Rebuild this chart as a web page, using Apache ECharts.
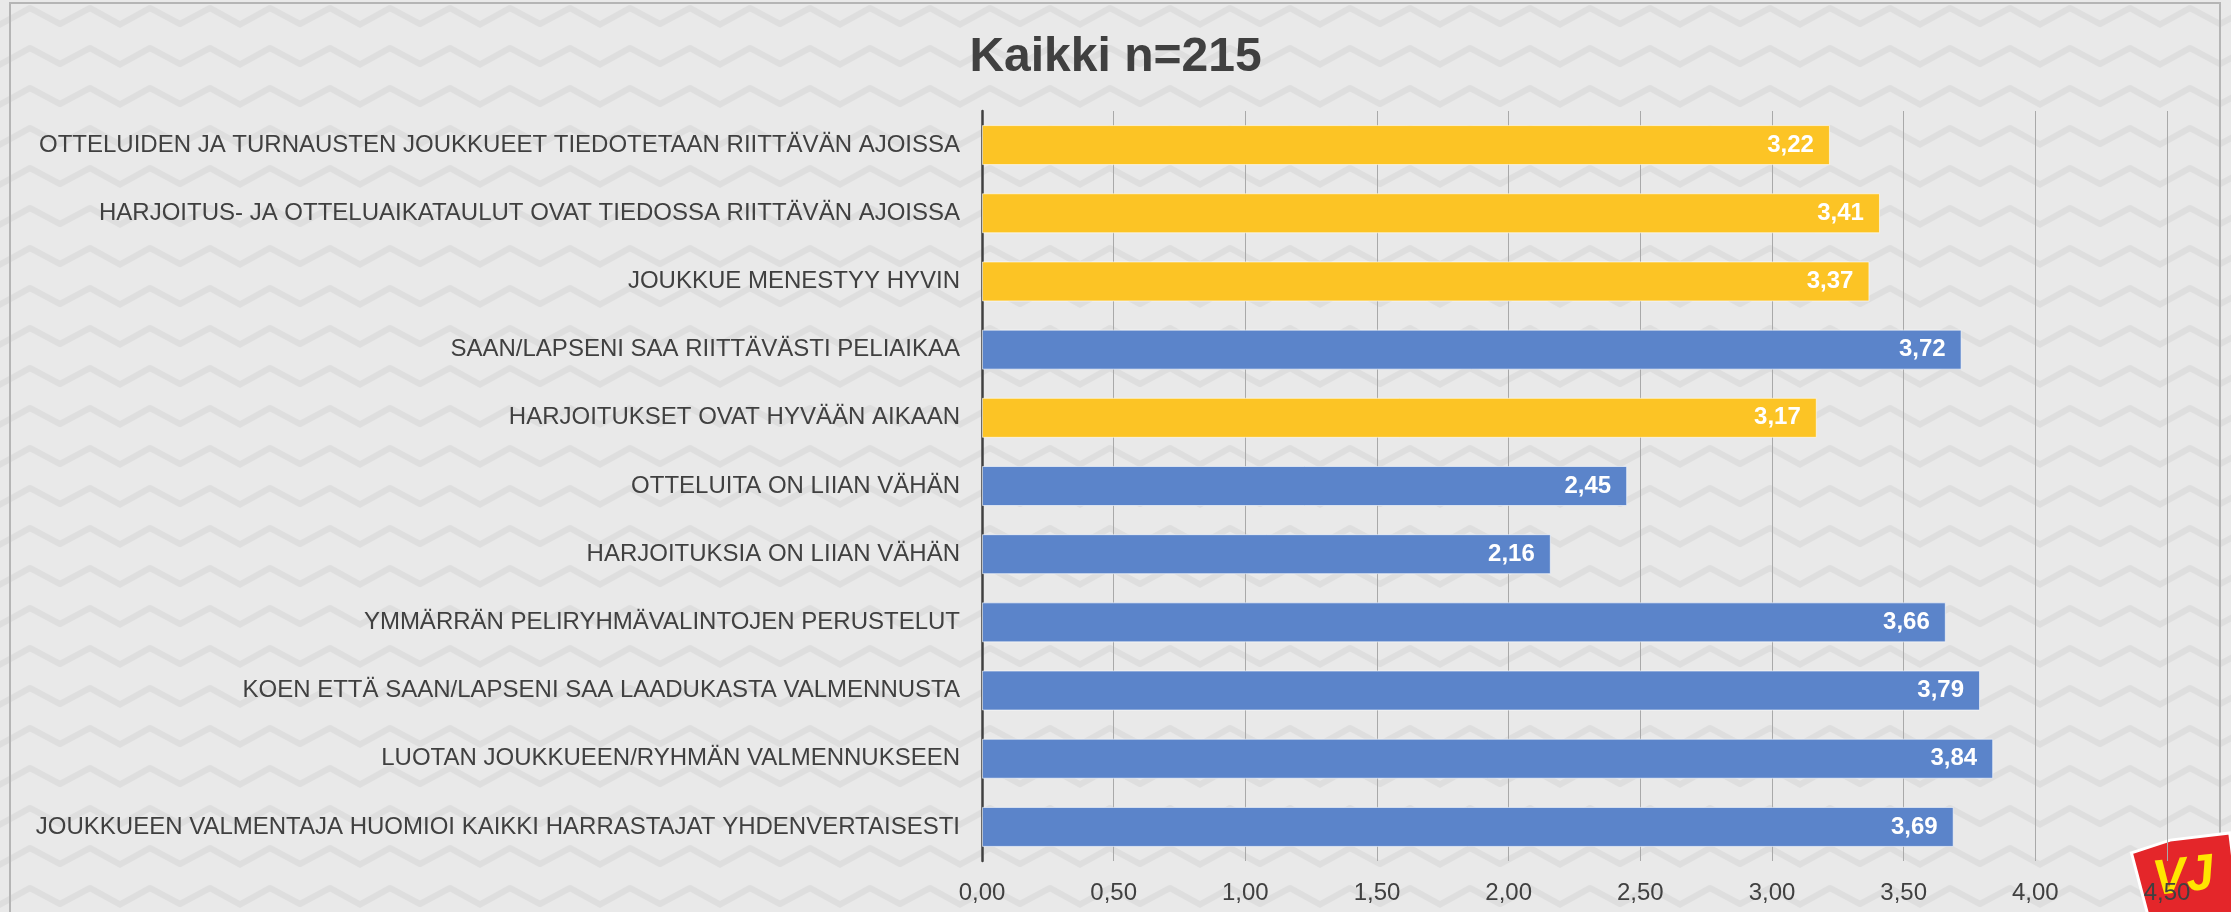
<!DOCTYPE html>
<html>
<head>
<meta charset="utf-8">
<script src="https://cdn.jsdelivr.net/npm/echarts@6/dist/echarts.min.js"></script>
<style>
  html, body { margin: 0; padding: 0; }
  #graph { width: 2231px; height: 912px; }
</style>
</head>
<body>
<div id="graph"></div>
<script>
// questions, top to bottom
var questions = [
    'OTTELUIDEN JA TURNAUSTEN JOUKKUEET TIEDOTETAAN RIITTÄVÄN AJOISSA',
    'HARJOITUS- JA OTTELUAIKATAULUT OVAT TIEDOSSA RIITTÄVÄN AJOISSA',
    'JOUKKUE MENESTYY HYVIN',
    'SAAN/LAPSENI SAA RIITTÄVÄSTI PELIAIKAA',
    'HARJOITUKSET OVAT HYVÄÄN AIKAAN',
    'OTTELUITA ON LIIAN VÄHÄN',
    'HARJOITUKSIA ON LIIAN VÄHÄN',
    'YMMÄRRÄN PELIRYHMÄVALINTOJEN PERUSTELUT',
    'KOEN ETTÄ SAAN/LAPSENI SAA LAADUKASTA VALMENNUSTA',
    'LUOTAN JOUKKUEEN/RYHMÄN VALMENNUKSEEN',
    'JOUKKUEEN VALMENTAJA HUOMIOI KAIKKI HARRASTAJAT YHDENVERTAISESTI'
];
// average answers
var averages = [3.22, 3.41, 3.37, 3.72, 3.17, 2.45, 2.16, 3.66, 3.79, 3.84, 3.69];
// which bars are yellow (1) and which are blue (0)
var highlighted = [1, 1, 1, 0, 1, 0, 0, 0, 0, 0, 0];

var yellow = '#FCC425';
var blue = '#5B84CA';
var textColor = '#404040';
var narrow = '"Liberation Sans Narrow", "Arial Narrow", "Liberation Sans", sans-serif';

// background pattern, a light chain of slanted links
var tile = document.createElement('canvas');
tile.width = 120;
tile.height = 80;
var ctx = tile.getContext('2d');
ctx.fillStyle = '#e9e9e9';
ctx.fillRect(0, 0, tile.width, tile.height);
ctx.strokeStyle = '#dedede';
ctx.lineWidth = 6;
ctx.lineJoin = 'round';
ctx.lineCap = 'round';
for (var dy = -80; dy <= 80; dy += 40) {
    ctx.beginPath();
    ctx.moveTo(-10, 30 + dy);
    ctx.lineTo(30, 8 + dy);
    ctx.lineTo(60, 24 + dy);
    ctx.lineTo(90, 8 + dy);
    ctx.lineTo(130, 30 + dy);
    ctx.stroke();
}

var data = [];
for (var i = 0; i < averages.length; i++) {
    data.push({
        value: averages[i],
        itemStyle: { color: highlighted[i] ? yellow : blue }
    });
}

var chart = echarts.init(document.getElementById('graph'));

var option = {
    backgroundColor: { image: tile, repeat: 'repeat' },
    title: {
        text: 'Kaikki n=215',
        left: 'center',
        top: 29,
        textStyle: {
            fontFamily: '"Liberation Sans", Arial, sans-serif',
            fontSize: 48,
            fontWeight: 'bold',
            color: textColor
        }
    },
    grid: {
        left: 982,
        right: 64,
        top: 111,
        bottom: 51
    },
    xAxis: {
        type: 'value',
        min: 0,
        max: 4.5,
        interval: 0.5,
        axisLine: { show: false },
        axisTick: { show: false },
        splitLine: { lineStyle: { color: '#a9a9a9', width: 1 } },
        axisLabel: {
            margin: 20,
            color: textColor,
            fontFamily: narrow,
            fontSize: 24,
            formatter: function (v) { return v.toFixed(2).replace('.', ','); }
        }
    },
    yAxis: {
        type: 'category',
        data: questions,
        inverse: true,
        axisLine: { show: true, lineStyle: { color: textColor, width: 2.5 } },
        axisTick: { show: false },
        axisLabel: {
            margin: 22,
            color: textColor,
            fontFamily: narrow,
            fontSize: 24
        }
    },
    series: [{
        type: 'bar',
        data: data,
        barWidth: 40,
        itemStyle: { borderColor: 'rgba(255,255,255,0.6)', borderWidth: 1 },
        label: {
            show: true,
            position: 'insideRight',
            distance: 16,
            color: '#ffffff',
            fontFamily: '"Liberation Sans", Arial, sans-serif',
            fontWeight: 'bold',
            fontSize: 24,
            formatter: function (p) { return p.value.toFixed(2).replace('.', ','); }
        }
    }],
    // chart frame and the club logo at the bottom right corner
    graphic: [{
        type: 'rect',
        shape: { x: 10, y: 3, width: 2210, height: 920 },
        style: { fill: 'none', stroke: '#b5b5b5', lineWidth: 2 },
        silent: true
    }, {
        type: 'group',
        right: -10,
        bottom: -14,
        rotation: 0.12,
        children: [{
            type: 'polygon',
            shape: { points: [[0, 8], [40, 0], [100, 0], [100, 80], [10, 80]] },
            style: { fill: '#e4262a', stroke: '#ffffff', lineWidth: 3 }
        }, {
            type: 'text',
            x: 18,
            y: 14,
            style: {
                text: 'VJ',
                fill: '#ffe600',
                font: 'italic bold 50px "Liberation Sans", Arial, sans-serif'
            }
        }]
    }]
};

chart.setOption(option);
</script>
</body>
</html>
